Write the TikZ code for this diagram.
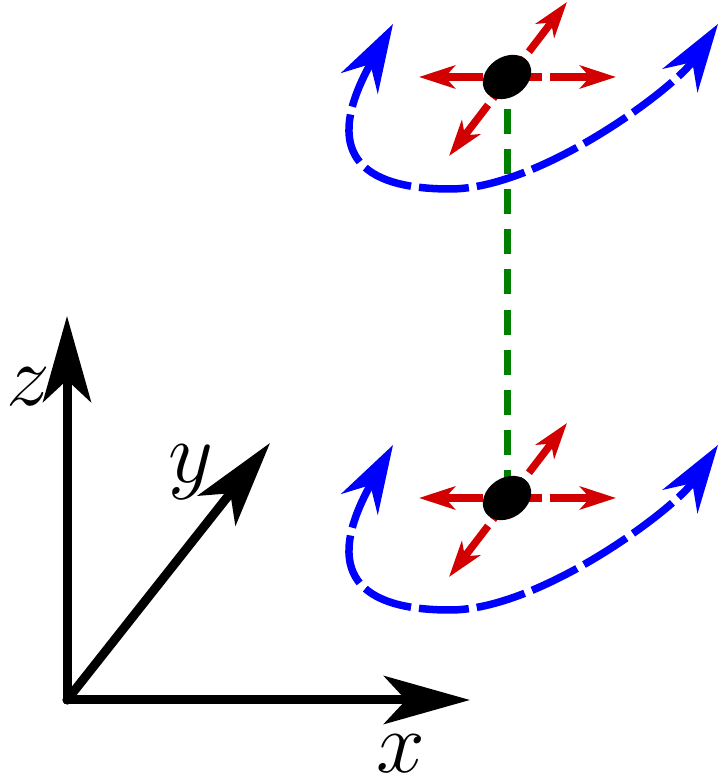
\documentclass[tikz,border=0pt]{standalone}
\usepackage{tikz}
\usetikzlibrary{arrows.meta, shapes.geometric}
\definecolor{spinred}{RGB}{210,0,0}
\definecolor{bondgreen}{RGB}{0,128,0}

\begin{document}
\begin{tikzpicture}[
    axis/.style={line width=0.09cm, line cap=round,
                 -{Stealth[length=0.86cm, width=0.48cm, inset=0.22cm]}},
    axlabel/.style={inner sep=0pt, font=\fontsize{28}{34}\selectfont},
    bond/.style={bondgreen, line width=0.07cm, dash pattern=on 0.25cm off 0.151cm,
                 dash phase=0.08cm},
    disp/.style={spinred, line width=0.075cm, dash pattern=on 0.51cm off 0.08cm,
                 dash phase=0.1cm,
                 {Stealth[length=0.36cm, width=0.23cm, inset=0.1cm]}-{Stealth[length=0.36cm, width=0.23cm, inset=0.1cm]}},
    rot/.style={blue, line width=0.075cm, dash pattern=on 0.5cm off 0.08cm,
                {Stealth[length=0.68cm, width=0.42cm, inset=0.22cm]}-{Stealth[length=0.68cm, width=0.42cm, inset=0.22cm]}},
    atom/.style={ellipse, fill=black, minimum width=0.52cm, minimum height=0.4cm,
                 inner sep=0pt, rotate=35}
]
\useasboundingbox (0,0) rectangle (7.25,7.83);

% axes
\coordinate (O) at (0.67,0.83);
\coordinate (xend) at (4.70,0.83);
\coordinate (yend) at (2.70,3.40);
\coordinate (zend) at (0.67,4.67);
\draw[axis] (O) -- (xend);
\draw[axis] (O) -- (yend);
\draw[axis] (O) -- (zend);
\node[axlabel] (xlab) at (4.01,0.29) {$x$};
\node[axlabel] (ylab) at (1.91,3.11) {$y$};
\node[axlabel] (zlab) at (0.28,3.96) {$z$};

% the two atoms and their displacement directions
\foreach \n/\yy in {top/7.06, bot/2.85}{
  \begin{scope}[shift={(5.07,\yy)}]
    \coordinate (\n) at (0,0);
    \coordinate (\n-l) at (-0.88,0);
    \coordinate (\n-r) at (1.09,0);
    \coordinate (\n-ur) at (0.60,0.75);
    \coordinate (\n-dl) at (-0.58,-0.79);
  \end{scope}
}
\draw[bond] (top) -- (bot);

\foreach \n/\yy in {top/7.06, bot/2.85}{
  \begin{scope}[shift={(5.07,\yy)}]
    \draw[rot] (-1.14,0.53) .. controls (-1.87,-0.76) and (-1.47,-1.12) .. (-0.57,-1.12)
               .. controls (0.33,-1.12) and (1.68,-0.11) .. (2.11,0.53);
  \end{scope}
  \draw[disp] (\n-l) -- (\n-r);
  \draw[disp] (\n-dl) -- (\n-ur);
  \node[atom] (\n-atom) at (\n) {};
}
\end{tikzpicture}
\end{document}
